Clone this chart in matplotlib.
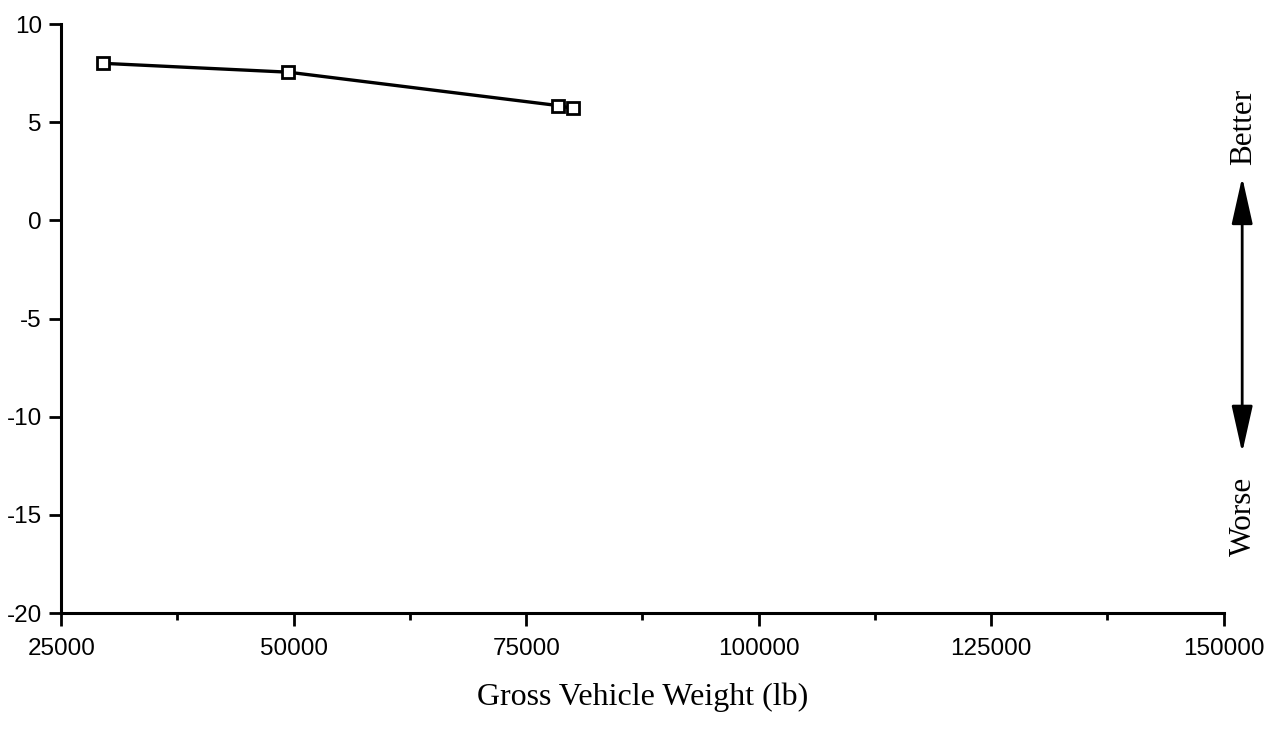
import matplotlib.pyplot as plt
from matplotlib.ticker import MultipleLocator
from matplotlib.patches import FancyArrowPatch

plt.rcParams['axes.unicode_minus'] = False

# values
weight = [29500, 49400, 78400, 80000]
score = [8.0, 7.55, 5.85, 5.7]

x_ticks = [25000, 50000, 75000, 100000, 125000, 150000]
y_ticks = [10, 5, 0, -5, -10, -15, -20]

fig = plt.figure(figsize=(12.76, 7.29), dpi=100)
ax = fig.add_axes([0.048, 0.159, 0.911, 0.808])

ax.plot(weight, score, color='black', lw=2.4, marker='s', ms=8,
        mfc='white', mec='black', mew=2)

ax.set_xlim(25000, 150000)
ax.set_ylim(-20, 10)
ax.set_xticks(x_ticks)
ax.set_yticks(y_ticks)
ax.xaxis.set_minor_locator(MultipleLocator(12500))

for s in ['top', 'right']:
    ax.spines[s].set_visible(False)
for s in ['left', 'bottom']:
    ax.spines[s].set_linewidth(2.2)

ax.tick_params(axis='both', which='major', length=9, width=2, direction='out',
               labelsize=17.5)
ax.tick_params(axis='y', pad=5)
ax.tick_params(axis='x', pad=9)
ax.tick_params(axis='x', which='minor', length=5, width=2, direction='out')
for lab in ax.get_xticklabels() + ax.get_yticklabels():
    lab.set_fontfamily('Liberation Sans')

ax.set_xlabel('Gross Vehicle Weight (lb)', fontfamily='Liberation Serif',
              fontsize=23, labelpad=16)

# better / worse arrow on the right
arrow = FancyArrowPatch((0.9735, 0.379), (0.9735, 0.757), transform=fig.transFigure,
                        arrowstyle='<|-|>,head_length=2.9,head_width=0.65',
                        mutation_scale=10, color='black', lw=2,
                        shrinkA=0, shrinkB=0)
fig.add_artist(arrow)
fig.text(0.9745, 0.774, 'Better', rotation=90, ha='center', va='bottom',
         fontfamily='Liberation Serif', fontsize=22.5)
fig.text(0.9745, 0.346, 'Worse', rotation=90, ha='center', va='top',
         fontfamily='Liberation Serif', fontsize=22.5)

fig.savefig('out.png', dpi=100)
